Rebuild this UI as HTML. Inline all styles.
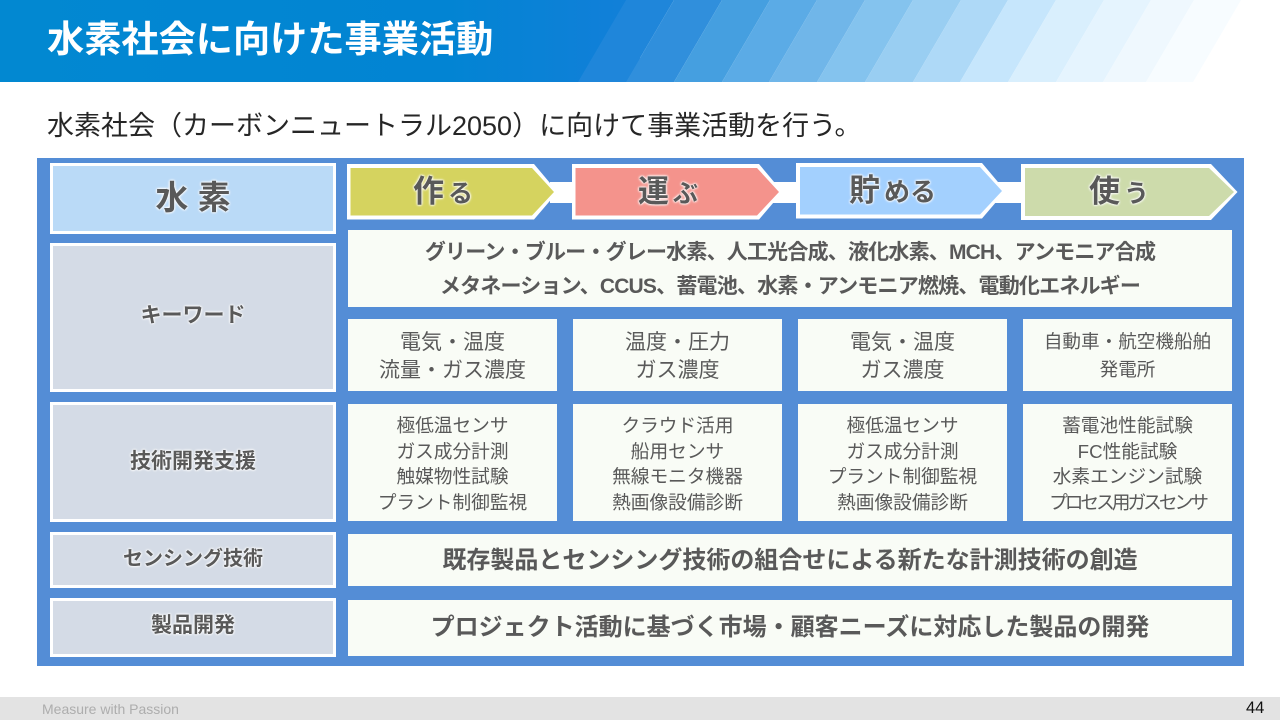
<!DOCTYPE html>
<html lang="ja"><head><meta charset="utf-8"><style>
html,body{margin:0;padding:0;background:#fff}
#p{position:relative;width:1280px;height:720px;overflow:hidden;background:#fff;font-family:"Liberation Sans","Noto Sans CJK JP",sans-serif;color:#595959}
#p div{position:absolute;box-sizing:border-box}
.t{text-align:center;white-space:nowrap;font-kerning:normal}
.c{background:#f9fcf6}
.l{background:#d4dbe6;border:3.5px solid #fff}
.h{font-weight:700;text-shadow:0 0 2px #fff,0 0 2px #fff,0 0 3px #fff}
</style></head><body><div id="p">
<svg style="position:absolute;left:0;top:0" width="1280" height="82">
<defs><linearGradient id="g" x1="0" x2="1"><stop offset="0" stop-color="#0288d1"/><stop offset=".7" stop-color="#0284d3"/><stop offset="1" stop-color="#137fd9"/></linearGradient></defs>
<rect width="640" height="82" fill="url(#g)"/>
<polygon points="578,82 626,82 674,0 626,0" fill="#1f86da"/>
<polygon points="626,82 674,82 722,0 674,0" fill="#308fdc"/>
<polygon points="674,82 722,82 770,0 722,0" fill="#459fe0"/>
<polygon points="722,82 769,82 817,0 770,0" fill="#5babe6"/>
<polygon points="769,82 817,82 865,0 817,0" fill="#70b6e9"/>
<polygon points="817,82 865,82 913,0 865,0" fill="#84c3ee"/>
<polygon points="865,82 913,82 961,0 913,0" fill="#99cef2"/>
<polygon points="913,82 960,82 1008,0 961,0" fill="#aed9f7"/>
<polygon points="960,82 1008,82 1056,0 1008,0" fill="#c6e6fc"/>
<polygon points="1008,82 1056,82 1104,0 1056,0" fill="#d9effd"/>
<polygon points="1056,82 1103,82 1151,0 1104,0" fill="#e5f4fe"/>
<polygon points="1103,82 1146,82 1194,0 1151,0" fill="#eff8fe"/>
<polygon points="1146,82 1193,82 1241,0 1194,0" fill="#f7fcff"/>
</svg>
<div class="t" style="left:47px;top:15px;color:#fff;font-size:37.2px;font-weight:700;line-height:48px">水素社会に向けた事業活動</div>
<div class="t" style="left:47px;top:107px;font-size:27px;line-height:38px;color:#262626">水素社会（カーボンニュートラル2050）に向けて事業活動を行う。</div>

<div style="left:37px;top:158px;width:1207px;height:508px;background:#548dd6"></div>

<div class="l" style="left:50px;top:163px;width:286px;height:71px;background:#badaf7"></div>
<div class="l" style="left:50px;top:243px;width:286px;height:149px"></div>
<div class="l" style="left:50px;top:402px;width:286px;height:120px"></div>
<div class="l" style="left:50px;top:532px;width:286px;height:56px"></div>
<div class="l" style="left:50px;top:598px;width:286px;height:59px"></div>

<div class="t h" style="left:50px;width:286px;top:178px;font-size:33px;line-height:40px">水 素</div>
<div class="t h" style="left:50px;width:286px;top:301px;font-size:21px;line-height:30px">キーワード</div>
<div class="t h" style="left:50px;width:286px;top:447px;font-size:21px;line-height:30px">技術開発支援</div>
<div class="t h" style="left:50px;width:286px;top:544px;font-size:20px;line-height:30px">センシング技術</div>
<div class="t h" style="left:50px;width:286px;top:611px;font-size:21px;line-height:30px">製品開発</div>

<svg style="position:absolute;left:0;top:0" width="1280" height="240">
<rect x="550" y="182" width="480" height="21" fill="#fff"/>
<polygon points="347,164 534,164 557.5,192 534,219.5 347,219.5" fill="#fff"/>
<polygon points="350.5,168 532,168 554,192 532,215.5 350.5,215.5" fill="#d5d35f"/>
<polygon points="572,164 759,164 782.5,192 759,219.5 572,219.5" fill="#fff"/>
<polygon points="575.5,168 757,168 779,192 757,215.5 575.5,215.5" fill="#f4938c"/>
<polygon points="796,163 982,163 1005.5,191 982,218.5 796,218.5" fill="#fff"/>
<polygon points="800,167 980,167 1002,191 980,214.5 800,214.5" fill="#a3d0fe"/>
<polygon points="1021,164 1211,164 1237.5,192 1211,220 1021,220" fill="#fff"/>
<polygon points="1025,168 1209,168 1234,192 1209,216 1025,216" fill="#cddbab"/>
</svg>
<div class="t h" style="left:413px;top:170px;font-size:31px;line-height:44px">作<span style="font-size:25px;margin-left:4px">る</span></div>
<div class="t h" style="left:638px;top:170px;font-size:31px;line-height:44px">運<span style="font-size:25px;margin-left:4px">ぶ</span></div>
<div class="t h" style="left:849px;top:169px;font-size:31px;line-height:44px">貯<span style="font-size:26px;margin-left:4px">める</span></div>
<div class="t h" style="left:1089px;top:170px;font-size:31px;line-height:44px">使<span style="font-size:25px;margin-left:4px">う</span></div>

<div class="c" style="left:348px;top:230px;width:884px;height:77px"></div>
<div class="t" style="left:348px;width:884px;top:236px;font-size:21px;letter-spacing:-.8px;font-weight:700;line-height:34px">グリーン・ブルー・グレー水素、人工光合成、液化水素、MCH、アンモニア合成<br>メタネーション、CCUS、蓄電池、水素・アンモニア燃焼、電動化エネルギー</div>

<div class="c" style="left:348px;top:319px;width:209px;height:72px"></div>
<div class="c" style="left:573px;top:319px;width:209px;height:72px"></div>
<div class="c" style="left:798px;top:319px;width:209px;height:72px"></div>
<div class="c" style="left:1023px;top:319px;width:209px;height:72px"></div>
<div class="t" style="left:348px;width:209px;top:329px;font-size:21px;line-height:28px">電気・温度<br>流量・ガス濃度</div>
<div class="t" style="left:573px;width:209px;top:329px;font-size:21px;line-height:28px">温度・圧力<br>ガス濃度</div>
<div class="t" style="left:798px;width:209px;top:329px;font-size:21px;line-height:28px">電気・温度<br>ガス濃度</div>
<div class="t" style="left:1023px;width:209px;top:328px;font-size:18.6px;line-height:28px">自動車・航空機船舶<br>発電所</div>

<div class="c" style="left:348px;top:404px;width:209px;height:117px"></div>
<div class="c" style="left:573px;top:404px;width:209px;height:117px"></div>
<div class="c" style="left:798px;top:404px;width:209px;height:117px"></div>
<div class="c" style="left:1023px;top:404px;width:209px;height:117px"></div>
<div class="t" style="left:348px;width:209px;top:413px;font-size:18.7px;line-height:25.7px">極低温センサ<br>ガス成分計測<br>触媒物性試験<br>プラント制御監視</div>
<div class="t" style="left:573px;width:209px;top:413px;font-size:18.7px;line-height:25.7px">クラウド活用<br>船用センサ<br>無線モニタ機器<br>熱画像設備診断</div>
<div class="t" style="left:798px;width:209px;top:413px;font-size:18.7px;line-height:25.7px">極低温センサ<br>ガス成分計測<br>プラント制御監視<br>熱画像設備診断</div>
<div class="t" style="left:1023px;width:209px;top:413px;font-size:18.7px;line-height:25.7px">蓄電池性能試験<br>FC性能試験<br>水素エンジン試験<br><span style="letter-spacing:-3px">プロセス用ガスセンサ</span></div>

<div class="c" style="left:348px;top:534px;width:884px;height:52px"></div>
<div class="c" style="left:348px;top:600px;width:884px;height:56px"></div>
<div class="t" style="left:348px;width:884px;top:544px;font-size:24px;font-weight:700;line-height:34px">既存製品とセンシング技術の組合せによる新たな計測技術の創造</div>
<div class="t" style="left:348px;width:884px;top:611px;font-size:24px;font-weight:700;line-height:34px">プロジェクト活動に基づく市場・顧客ニーズに対応した製品の開発</div>

<div style="left:0;top:697px;width:1280px;height:23px;background:#e3e3e3"></div>
<div class="t" style="left:42px;top:699px;font-size:14px;line-height:21px;color:#adadad">Measure with Passion</div>
<div class="t" style="left:1246px;top:697px;font-size:16.5px;line-height:22px;color:#111">44</div>
</div></body></html>
